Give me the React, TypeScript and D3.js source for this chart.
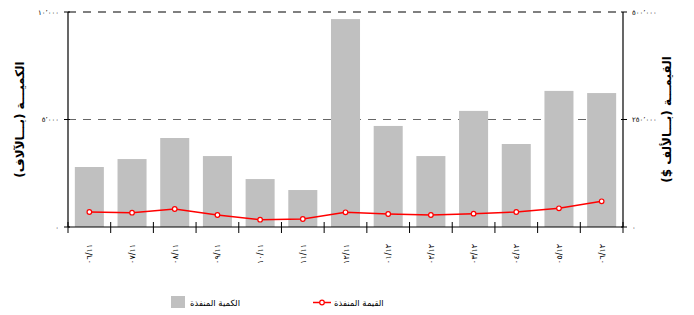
import * as d3 from 'd3';

const months = ['06/11', '07/11', '08/11', '09/11', '10/11', '11/11', '12/11', '01/12', '02/12', '03/12', '04/12', '05/12', '06/12'];
// الكمية المنفذة (بالآلاف)
const quantity = [2790, 3160, 4140, 3300, 2230, 1720, 9670, 4700, 3300, 5400, 3860, 6330, 6230];
// القيمة المنفذة (بالألف $)
const value = [34900, 33300, 41900, 27900, 17000, 18600, 34200, 30200, 27900, 31000, 34900, 43500, 59800];
const leftTicks = [0, 5000, 10000];
const rightTicks = [0, 250000, 500000];

const W = 694;
const H = 315;
const M = { top: 12, right: 71, bottom: 88, left: 68 };
const AR_FONT = '"DejaVu Sans", sans-serif';

const arDigits = (s: string) =>
  s.replace(/[0-9]/g, d => '٠١٢٣٤٥٦٧٨٩'[+d]).replace(/,/g, '٬');

export default function App() {
  const x0 = M.left;
  const x1 = W - M.right;
  const yBase = H - M.bottom;

  const x = d3.scaleBand<string>()
    .domain(months)
    .range([x0, x1])
    .paddingInner(0.32)
    .paddingOuter(0.16);
  const yL = d3.scaleLinear().domain([0, 10000]).range([yBase, M.top]);
  const yR = d3.scaleLinear().domain([0, 500000]).range([yBase, M.top]);

  const cx = (d: string) => (x(d) ?? 0) + x.bandwidth() / 2;
  const line = d3.line<number>()
    .x((_, i) => cx(months[i]))
    .y(d => yR(d));

  const step = x.step();
  const bounds = d3.range(months.length + 1).map(i => x0 + i * step);
  const fmt = d3.format(',');

  return (
    <svg width={W} height={H} style={{ position: 'fixed', left: 0, top: 0, background: '#fff' }}>
      {/* grid */}
      {leftTicks.filter(t => t > 0).map(t => (
        <line key={t} x1={x0} x2={x1} y1={yL(t)} y2={yL(t)}
          stroke={t === 10000 ? '#000' : '#666'} strokeWidth={1.2} strokeDasharray="8,7" />
      ))}

      {/* bars */}
      {quantity.map((q, i) => (
        <rect key={i} x={x(months[i])} y={yL(q)} width={x.bandwidth()} height={yBase - yL(q)} fill="#C0C0C0" />
      ))}

      {/* line */}
      <path d={line(value) ?? ''} fill="none" stroke="#FF0000" strokeWidth={1.5} />
      {value.map((v, i) => (
        <circle key={i} cx={cx(months[i])} cy={yR(v)} r={2.3} fill="#fff" stroke="#FF0000" strokeWidth={1.2} />
      ))}

      {/* x axis */}
      <line x1={x0} x2={x1} y1={yBase} y2={yBase} stroke="#000" strokeWidth={1.2} />
      {bounds.map((b, i) => (
        <line key={i} x1={b} x2={b} y1={yBase - 5} y2={yBase + 6} stroke="#000" strokeWidth={1} />
      ))}
      {months.map(m => (
        <text key={m} transform={`translate(${cx(m) + 3},244) rotate(-90)`} textAnchor="end"
          fontFamily={AR_FONT} fontSize={8} letterSpacing={3} fill="#000">{arDigits(m)}</text>
      ))}

      {/* left axis */}
      <line x1={x0} x2={x0} y1={M.top} y2={yBase} stroke="#000" strokeWidth={1.2} />
      {leftTicks.map(t => (
        <g key={t}>
          <line x1={x0 - 4} x2={x0 + 2} y1={yL(t)} y2={yL(t)} stroke="#000" />
          <text x={x0 - 9} y={yL(t) + 2.5} textAnchor="end" fontFamily={AR_FONT} fontSize={7} fill="#000">{arDigits(fmt(t))}</text>
        </g>
      ))}
      <text transform={`translate(24,${(M.top + yBase) / 2}) rotate(-90)`} textAnchor="middle" direction="rtl"
        fontFamily={AR_FONT} fontSize={12} fontWeight="bold" fill="#000">الكميـــة (بـــالآلاف)</text>

      {/* right axis */}
      <line x1={x1} x2={x1} y1={M.top} y2={yBase} stroke="#000" strokeWidth={1.2} />
      {rightTicks.map(t => (
        <g key={t}>
          <line x1={x1 - 2} x2={x1 + 4} y1={yR(t)} y2={yR(t)} stroke="#000" />
          <text x={x1 + 9} y={yR(t) + 2.5} textAnchor="start" fontFamily={AR_FONT} fontSize={7} fill="#000">{arDigits(fmt(t))}</text>
        </g>
      ))}
      <text transform={`translate(671,${(M.top + yBase) / 2}) rotate(-90)`} textAnchor="middle" direction="rtl"
        fontFamily={AR_FONT} fontSize={12} fontWeight="bold" fill="#000">القيمـــة (بـــالألف $)</text>

      {/* legend */}
      <rect x={171} y={296} width={14} height={12} fill="#C0C0C0" />
      <text x={190} y={306} textAnchor="start" fontFamily={AR_FONT} fontSize={8.5} fill="#000">الكمية المنفذة</text>
      <line x1={313} x2={331} y1={302.5} y2={302.5} stroke="#FF0000" strokeWidth={1.5} />
      <circle cx={322} cy={302.5} r={2.3} fill="#fff" stroke="#FF0000" strokeWidth={1.2} />
      <text x={334} y={306} textAnchor="start" fontFamily={AR_FONT} fontSize={8.5} fill="#000">القيمة المنفذة</text>
    </svg>
  );
}
